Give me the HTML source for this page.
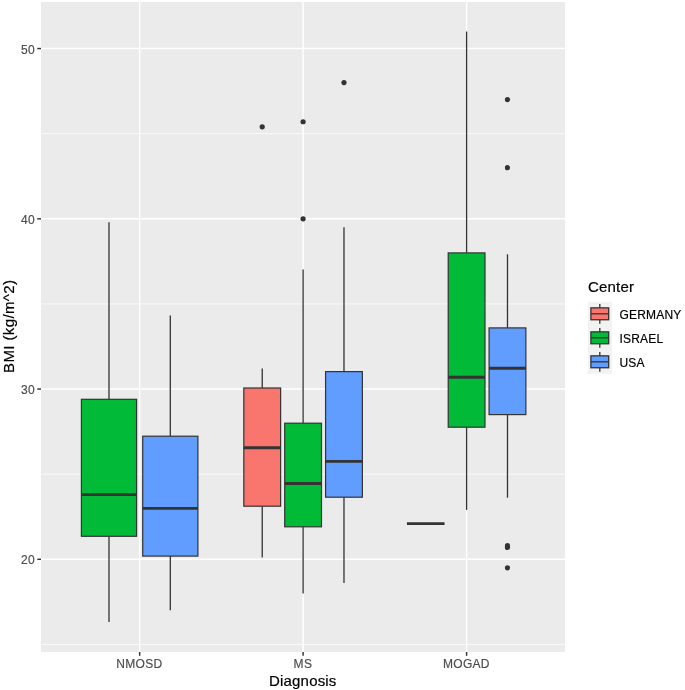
<!DOCTYPE html>
<html>
<head>
<meta charset="utf-8">
<title>BMI by Diagnosis and Center</title>
<style>
html, body { margin: 0; padding: 0; background: #ffffff; }
body { width: 685px; height: 690px; overflow: hidden; }
svg { display: block; will-change: transform; font-family: "Liberation Sans", sans-serif; }
.ax { font-size: 12px; fill: #4D4D4D; stroke: #4D4D4D; stroke-width: 0.18px; }
.ti { font-size: 15px; fill: #000000; stroke: #000000; stroke-width: 0.2px; }
.lg { font-size: 12px; fill: #000000; stroke: #000000; stroke-width: 0.18px; }
.axx { letter-spacing: 0.3px; }
.ay { letter-spacing: 0.4px; }
.tx { letter-spacing: 0.18px; }
.ty { letter-spacing: 0.38px; }
.tl { letter-spacing: 0.2px; }
.lg { letter-spacing: 0.2px; }
</style>
</head>
<body>
<svg width="685" height="690" viewBox="0 0 685 690">
<rect x="0" y="0" width="685" height="690" fill="#ffffff"/>
<rect x="41.0" y="2.0" width="524.0" height="650.0" fill="#EBEBEB"/>
<line x1="41.0" x2="565.0" y1="133.68" y2="133.68" stroke="#fff" stroke-width="0.73"/>
<line x1="41.0" x2="565.0" y1="303.92" y2="303.92" stroke="#fff" stroke-width="0.73"/>
<line x1="41.0" x2="565.0" y1="474.17" y2="474.17" stroke="#fff" stroke-width="0.73"/>
<line x1="41.0" x2="565.0" y1="644.42" y2="644.42" stroke="#fff" stroke-width="0.73"/>
<line x1="41.0" x2="565.0" y1="48.55" y2="48.55" stroke="#fff" stroke-width="1.45"/>
<line x1="41.0" x2="565.0" y1="218.80" y2="218.80" stroke="#fff" stroke-width="1.45"/>
<line x1="41.0" x2="565.0" y1="389.05" y2="389.05" stroke="#fff" stroke-width="1.45"/>
<line x1="41.0" x2="565.0" y1="559.30" y2="559.30" stroke="#fff" stroke-width="1.45"/>
<line x1="139.65" x2="139.65" y1="2.0" y2="652.0" stroke="#fff" stroke-width="1.45"/>
<line x1="303.10" x2="303.10" y1="2.0" y2="652.0" stroke="#fff" stroke-width="1.45"/>
<line x1="466.60" x2="466.60" y1="2.0" y2="652.0" stroke="#fff" stroke-width="1.45"/>
<line x1="108.99" x2="108.99" y1="222.20" y2="399.30" stroke="#333333" stroke-width="1.3"/>
<line x1="108.99" x2="108.99" y1="536.30" y2="622.00" stroke="#333333" stroke-width="1.3"/>
<rect x="81.40" y="399.30" width="55.18" height="137.00" fill="#00BA38" stroke="#333333" stroke-width="1.2" stroke-linejoin="miter"/>
<line x1="81.40" x2="136.58" y1="494.60" y2="494.60" stroke="#333333" stroke-width="2.9"/>
<line x1="170.31" x2="170.31" y1="315.60" y2="436.20" stroke="#333333" stroke-width="1.3"/>
<line x1="170.31" x2="170.31" y1="556.10" y2="610.30" stroke="#333333" stroke-width="1.3"/>
<rect x="142.72" y="436.20" width="55.18" height="119.90" fill="#619CFF" stroke="#333333" stroke-width="1.2" stroke-linejoin="miter"/>
<line x1="142.72" x2="197.90" y1="508.40" y2="508.40" stroke="#333333" stroke-width="2.9"/>
<circle cx="262.23" cy="126.87" r="2.6" fill="#333333"/>
<line x1="262.23" x2="262.23" y1="368.50" y2="388.00" stroke="#333333" stroke-width="1.3"/>
<line x1="262.23" x2="262.23" y1="506.20" y2="557.60" stroke="#333333" stroke-width="1.3"/>
<rect x="243.83" y="388.00" width="36.79" height="118.20" fill="#F8766D" stroke="#333333" stroke-width="1.2" stroke-linejoin="miter"/>
<line x1="243.83" x2="280.62" y1="447.80" y2="447.80" stroke="#333333" stroke-width="2.9"/>
<circle cx="303.10" cy="121.76" r="2.6" fill="#333333"/>
<circle cx="303.10" cy="218.80" r="2.6" fill="#333333"/>
<line x1="303.10" x2="303.10" y1="269.60" y2="423.20" stroke="#333333" stroke-width="1.3"/>
<line x1="303.10" x2="303.10" y1="526.80" y2="593.40" stroke="#333333" stroke-width="1.3"/>
<rect x="284.71" y="423.20" width="36.79" height="103.60" fill="#00BA38" stroke="#333333" stroke-width="1.2" stroke-linejoin="miter"/>
<line x1="284.71" x2="321.49" y1="483.50" y2="483.50" stroke="#333333" stroke-width="2.9"/>
<circle cx="343.98" cy="82.60" r="2.6" fill="#333333"/>
<line x1="343.98" x2="343.98" y1="227.30" y2="371.60" stroke="#333333" stroke-width="1.3"/>
<line x1="343.98" x2="343.98" y1="497.20" y2="582.90" stroke="#333333" stroke-width="1.3"/>
<rect x="325.58" y="371.60" width="36.79" height="125.60" fill="#619CFF" stroke="#333333" stroke-width="1.2" stroke-linejoin="miter"/>
<line x1="325.58" x2="362.37" y1="461.40" y2="461.40" stroke="#333333" stroke-width="2.9"/>
<line x1="466.60" x2="466.60" y1="31.50" y2="252.90" stroke="#333333" stroke-width="1.3"/>
<line x1="466.60" x2="466.60" y1="427.20" y2="509.90" stroke="#333333" stroke-width="1.3"/>
<rect x="448.21" y="252.90" width="36.79" height="174.30" fill="#00BA38" stroke="#333333" stroke-width="1.2" stroke-linejoin="miter"/>
<line x1="448.21" x2="484.99" y1="377.20" y2="377.20" stroke="#333333" stroke-width="2.9"/>
<circle cx="507.48" cy="99.62" r="2.6" fill="#333333"/>
<circle cx="507.48" cy="167.72" r="2.6" fill="#333333"/>
<circle cx="507.48" cy="545.68" r="2.6" fill="#333333"/>
<circle cx="507.48" cy="547.38" r="2.6" fill="#333333"/>
<circle cx="507.48" cy="567.81" r="2.6" fill="#333333"/>
<line x1="507.48" x2="507.48" y1="254.30" y2="327.90" stroke="#333333" stroke-width="1.3"/>
<line x1="507.48" x2="507.48" y1="414.60" y2="497.70" stroke="#333333" stroke-width="1.3"/>
<rect x="489.08" y="327.90" width="36.79" height="86.70" fill="#619CFF" stroke="#333333" stroke-width="1.2" stroke-linejoin="miter"/>
<line x1="489.08" x2="525.87" y1="368.30" y2="368.30" stroke="#333333" stroke-width="2.9"/>
<line x1="406.93" x2="444.52" y1="523.6" y2="523.6" stroke="#333333" stroke-width="2.9"/>
<line x1="37.3" x2="41.0" y1="48.55" y2="48.55" stroke="#333333" stroke-width="1.45"/>
<text x="35.2" y="54" text-anchor="end" class="ax ay">50</text>
<line x1="37.3" x2="41.0" y1="218.80" y2="218.80" stroke="#333333" stroke-width="1.45"/>
<text x="35.2" y="224" text-anchor="end" class="ax ay">40</text>
<line x1="37.3" x2="41.0" y1="389.05" y2="389.05" stroke="#333333" stroke-width="1.45"/>
<text x="35.2" y="394" text-anchor="end" class="ax ay">30</text>
<line x1="37.3" x2="41.0" y1="559.30" y2="559.30" stroke="#333333" stroke-width="1.45"/>
<text x="35.2" y="564" text-anchor="end" class="ax ay">20</text>
<line x1="139.65" x2="139.65" y1="652.0" y2="655.8" stroke="#333333" stroke-width="1.45"/>
<text x="139.45" y="668.4" text-anchor="middle" class="ax axx">NMOSD</text>
<line x1="303.10" x2="303.10" y1="652.0" y2="655.8" stroke="#333333" stroke-width="1.45"/>
<text x="302.90" y="668.4" text-anchor="middle" class="ax axx">MS</text>
<line x1="466.60" x2="466.60" y1="652.0" y2="655.8" stroke="#333333" stroke-width="1.45"/>
<text x="466.40" y="668.4" text-anchor="middle" class="ax axx">MOGAD</text>
<text x="302.8" y="685.9" text-anchor="middle" class="ti tx">Diagnosis</text>
<text transform="translate(14.2,326.3) rotate(-90)" text-anchor="middle" class="ti ty">BMI (kg/m^2)</text>
<text x="587.9" y="292.4" class="ti tl">Center</text>
<rect x="588" y="301.9" width="23.9" height="71.8" fill="#F2F2F2"/>
<line x1="599.8" x2="599.8" y1="304.05" y2="323.70" stroke="#333333" stroke-width="1.3"/>
<rect x="590.9" y="307.85" width="17.8" height="11.9" fill="#F8766D" stroke="#333333" stroke-width="1.3"/>
<line x1="590.9" x2="608.7" y1="313.80" y2="313.80" stroke="#333333" stroke-width="1.3"/>
<text x="619.5" y="319" class="lg">GERMANY</text>
<line x1="599.8" x2="599.8" y1="328.05" y2="347.70" stroke="#333333" stroke-width="1.3"/>
<rect x="590.9" y="331.85" width="17.8" height="11.9" fill="#00BA38" stroke="#333333" stroke-width="1.3"/>
<line x1="590.9" x2="608.7" y1="337.80" y2="337.80" stroke="#333333" stroke-width="1.3"/>
<text x="619.5" y="343" class="lg">ISRAEL</text>
<line x1="599.8" x2="599.8" y1="352.05" y2="371.70" stroke="#333333" stroke-width="1.3"/>
<rect x="590.9" y="355.85" width="17.8" height="11.9" fill="#619CFF" stroke="#333333" stroke-width="1.3"/>
<line x1="590.9" x2="608.7" y1="361.80" y2="361.80" stroke="#333333" stroke-width="1.3"/>
<text x="619.5" y="367" class="lg">USA</text>
</svg>
</body>
</html>
